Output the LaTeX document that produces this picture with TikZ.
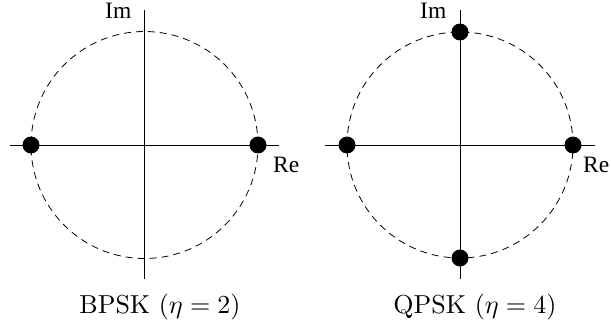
\documentclass[tikz,border=0pt]{standalone}
\usepackage{fontspec}
\newfontfamily\tms{Liberation Serif}
\begin{document}
\begin{tikzpicture}[x=1pt,y=-1pt,
  axis/.style={line width=1pt},
  ring/.style={line width=0.8pt,dash pattern=on 7pt off 5pt},
  pt/.style={circle,fill=black,minimum size=17pt,inner sep=0pt},
  axlbl/.style={inner sep=0pt,font=\tms\fontsize{23.5}{27}\selectfont},
  captext/.style={inner sep=0pt,anchor=base,scale=2.6,transform shape,font=\fontsize{10}{12}\selectfont}]
\useasboundingbox (0,0) rectangle (611,329);
% left: BPSK
\coordinate (lc) at (144.5,145);
\coordinate (lw) at (10,145);
\coordinate (le) at (278.5,145);
\coordinate (ln) at (144.5,10.5);
\coordinate (ls) at (144.5,278.5);
\draw[ring] (lc) circle[radius=113.5pt];
\draw[axis] (lw) -- (le);
\draw[axis] (ln) -- (ls);
\node[pt] (l1) at (31,145) {};
\node[pt] (l2) at (258,145) {};
\node[axlbl,anchor=base east] (lim) at (131.5,19) {Im};
\node[axlbl,anchor=base west] (lre) at (273,172) {Re};
\node[captext] (lcap) at (160,313) {BPSK ($\eta=2$)};
% right: QPSK
\coordinate (rc) at (460,145);
\coordinate (rw) at (325,145);
\coordinate (re) at (594.5,145);
\coordinate (rn) at (460,10.5);
\coordinate (rs) at (460,278.5);
\draw[ring] (rc) circle[radius=113pt];
\draw[axis] (rw) -- (re);
\draw[axis] (rn) -- (rs);
\node[pt] (r1) at (347,145) {};
\node[pt] (r2) at (573,145) {};
\node[pt] (r3) at (460,32) {};
\node[pt] (r4) at (460,258) {};
\node[axlbl,anchor=base east] (rim) at (446.5,19) {Im};
\node[axlbl,anchor=base west] (rre) at (583,172) {Re};
\node[captext] (rcap) at (475,313) {QPSK ($\eta=4$)};
\end{tikzpicture}
\end{document}
